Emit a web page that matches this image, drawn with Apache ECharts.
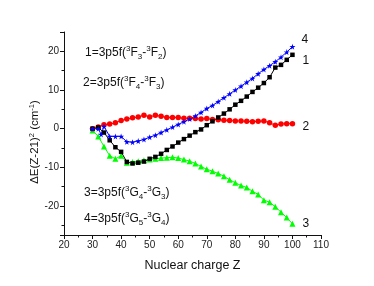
<!DOCTYPE html>
<html><head><meta charset="utf-8">
<script src="https://cdn.jsdelivr.net/npm/echarts@6/dist/echarts.min.js"></script>
<style>html,body{margin:0;padding:0;background:#fff}#c{width:374px;height:286px}</style>
</head><body><div id="c"></div>
<script>
var zAll = [30,32,34,36,38,40,42,44,46,48,50,52,54,56,58,60,62,64,66,68,70,72,74,76,78,80,82,84,86,88,90,92,94,96,98,100];
var zBlue = [30,32,33,34,36,38,40,42,44,46,48,50,52,54,56,58,60,62,64,66,68,70,72,74,76,78,80,82,84,86,88,90,92,94,96,98,100];
var s1 = [0,0.3,-1.0,-3.0,-4.8,-6.0,-8.6,-9.0,-8.8,-8.5,-7.8,-7.3,-6.5,-5.5,-4.6,-3.6,-2.7,-1.8,-0.9,-0.2,0.9,1.9,2.9,3.9,5.0,6.2,7.2,8.3,9.5,10.6,11.8,13.3,15.8,16.5,17.8,19.1];
var s2 = [0,0.4,1.0,1.2,1.5,2.1,2.5,2.8,3.0,3.5,3.0,3.5,3.2,2.9,2.9,2.9,2.7,2.7,2.6,2.5,2.6,2.4,2.3,2.2,2.1,2.0,2.0,1.9,1.8,1.9,2.0,1.5,0.9,1.2,1.3,1.3];
var s3 = [-0.5,-2.0,-4.6,-7.0,-7.8,-7.0,-8.8,-8.6,-8.4,-8.2,-8.0,-7.8,-7.6,-7.5,-7.4,-7.6,-8.0,-8.4,-9.0,-9.8,-10.5,-11.0,-11.6,-12.3,-13.2,-14.0,-14.7,-15.2,-16.2,-17.0,-18.5,-19.0,-20.2,-21.6,-23.0,-24.6];
var s4 = [0,0,-1.5,0.6,-2.0,-2.0,-2.0,-3.4,-3.5,-3.2,-2.8,-2.2,-1.7,-1.0,-0.3,0.4,1.1,1.8,2.5,3.3,4.2,5.2,6.0,7.0,8.0,9.0,10.0,11.0,12.0,13.0,14.2,15.3,16.3,17.3,18.5,19.8,21.2];
var seriesNames = ['1','2','3','4'];
var legendLines = [
  ['1=3p5f(','3','F','3','-','3','F','2',')'],
  ['2=3p5f(','3','F','4','-','3','F','3',')'],
  ['3=3p5f(','3','G','4','-','3','G','3',')'],
  ['4=3p5f(','3','G','5','-','3','G','4',')']
];
var yTitle = ['ΔE(Z-21)','2',' (cm','-1',')'];
function pairs(x, y){ var r=[]; for(var i=0;i<y.length;i++) r.push([x[i], y[i]]); return r; }
function legendText(p){ return '{a|'+p[0]+'}{u|'+p[1]+'}{a|'+p[2]+'}{d|'+p[3]+'}{a|'+p[4]+'}{u|'+p[5]+'}{a|'+p[6]+'}{d|'+p[7]+'}{a|'+p[8]+'}'; }
var rich = {
  a:{fontSize:12, fontFamily:'Liberation Sans', color:'#111', lineHeight:16, verticalAlign:'middle'},
  u:{fontSize:8, fontFamily:'Liberation Sans', color:'#111', lineHeight:16, verticalAlign:'top'},
  d:{fontSize:8, fontFamily:'Liberation Sans', color:'#111', lineHeight:16, verticalAlign:'bottom'}
};
var richY = {
  a:{fontSize:11.5, fontFamily:'Liberation Sans', color:'#111', lineHeight:14, verticalAlign:'middle'},
  u:{fontSize:7.5, fontFamily:'Liberation Sans', color:'#111', lineHeight:14, verticalAlign:'top'}
};
var star = 'path://M50,0 L61,35 L98,35 L68,57 L79,91 L50,70 L21,91 L32,57 L2,35 L39,35 Z';
var legendPos = [[85,53],[83,83],[84,193],[84,219]];
var chart = echarts.init(document.getElementById('c'), null, {renderer:'canvas'});
function mkSeries(name, data, color, symbol, size, off){
  return {name:name, type:'line', data:data, symbol:symbol, symbolSize:size, showAllSymbol:true,
    lineStyle:{color:color, width:1}, itemStyle:{color:color}, animation:false,
    endLabel:{show:true, formatter:name, color:'#111', fontSize:12, fontFamily:'Liberation Sans', offset:off}};
}
var graphics = legendLines.map(function(p, i){
  return {type:'text', left:legendPos[i][0], top:legendPos[i][1]-8,
    style:{text:legendText(p), rich:rich, fill:'#111'}};
});
graphics.push({type:'text', x:35, y:142, rotation:Math.PI/2,
  style:{text:'{a|'+yTitle[0]+'}{u|'+yTitle[1]+'}{a|'+yTitle[2]+'}{u|'+yTitle[3]+'}{a|'+yTitle[4]+'}',
    rich:richY, align:'center', verticalAlign:'middle', fill:'#111'}});
chart.setOption({
  animation:false,
  grid:{left:64, right:53, top:32, bottom:51, containLabel:false},
  xAxis:{type:'value', min:20, max:110, interval:10,
    name:'Nuclear charge Z', nameLocation:'middle', nameGap:24,
    nameTextStyle:{fontSize:12.5, fontFamily:'Liberation Sans', color:'#111'},
    axisLine:{onZero:false, lineStyle:{color:'#111', width:1}},
    axisTick:{show:true, inside:false, length:4, lineStyle:{color:'#111'}},
    minorTick:{show:true, splitNumber:2, length:2.5, lineStyle:{color:'#111'}},
    axisLabel:{fontSize:10, fontFamily:'Liberation Sans', color:'#222', margin:5},
    splitLine:{show:false}},
  yAxis:{type:'value', min:-27.5, max:25, splitNumber:5,
    axisLine:{onZero:false, lineStyle:{color:'#111', width:1}},
    axisTick:{show:true, inside:false, length:4, lineStyle:{color:'#111'}},
    minorTick:{show:true, splitNumber:2, length:2.5, lineStyle:{color:'#111'}},
    axisLabel:{fontSize:10, fontFamily:'Liberation Sans', color:'#222', margin:5, showMinLabel:false, showMaxLabel:false},
    splitLine:{show:false}},
  series:[
    mkSeries(seriesNames[2], pairs(zAll, s3), '#00ff00', 'triangle', 6, [2,0]),
    mkSeries(seriesNames[1], pairs(zAll, s2), '#ff0000', 'circle', 5.5, [2,3]),
    mkSeries(seriesNames[0], pairs(zAll, s1), '#000000', 'rect', 4.5, [2,6]),
    mkSeries(seriesNames[3], pairs(zBlue, s4), '#0000ff', star, 6, [1,-7])
  ],
  graphic: graphics
});
</script></body></html>
